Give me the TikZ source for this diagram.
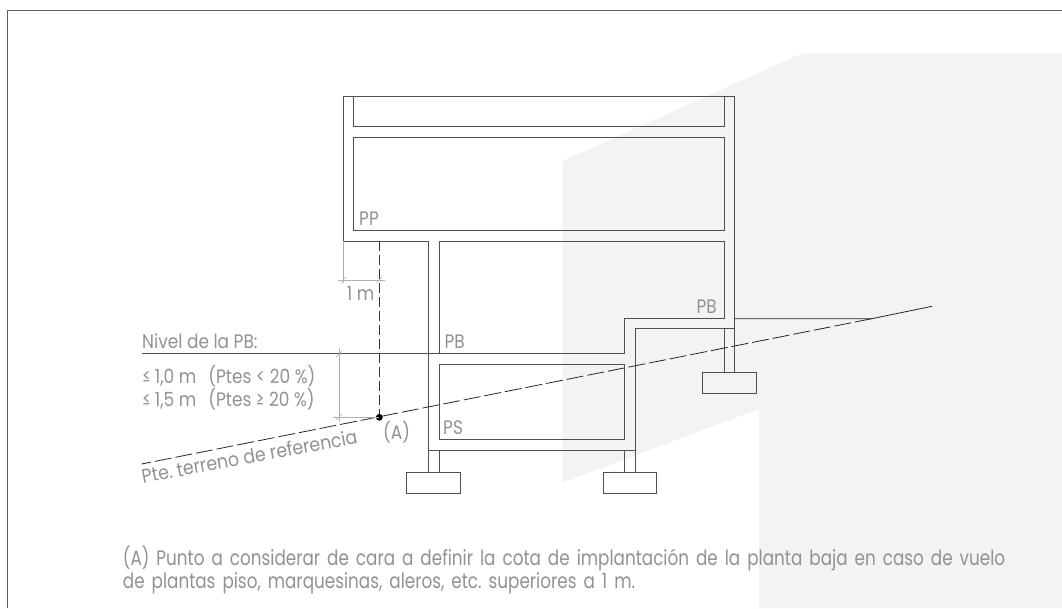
\documentclass[tikz,border=0pt]{standalone}
\usepackage{fontspec}
\setmainfont{Poppins}
\newfontfamily\labfont{Poppins}[FakeStretch=0.87]
\newfontfamily\ptefont{Poppins}[FakeStretch=0.89]
\newfontfamily\notefont{Poppins}[FakeStretch=0.80]
\frenchspacing
\definecolor{bgg}{HTML}{F3F3F3}
\definecolor{wall}{HTML}{505050}
\definecolor{txt}{HTML}{929292}
\definecolor{dimc}{HTML}{B0B0B0}
\tikzset{
  px/.style={x=1pt,y=-1pt},
  wallline/.style={draw=wall,line width=0.9pt,line join=miter},
  dimline/.style={draw=dimc,line width=0.5pt},
  lab/.style={text=txt,font=\labfont\fontsize{19.5}{22}\selectfont,inner sep=0pt},
  note/.style={text=txt,font=\notefont\fontsize{21}{23.5}\selectfont,inner sep=0pt,align=left,anchor=base west,text width=930pt}
}
\begin{document}
\begin{tikzpicture}[px]
\useasboundingbox (0,0) rectangle (1062,608);
\fill[white] (0,0) rectangle (1062,608);
\fill[bgg] (562.7,161) -- (803,53) -- (1062,53) -- (1062,608) -- (759,608) -- (759,409) -- (562.7,482.7) -- cycle;
\draw[draw=wall!90,line width=1.3pt] (7.5,608) -- (7.5,10.5) -- (1062,10.5);
% outer building
\draw[wallline] (343.3,96) -- (734.7,96);
\draw[wallline] (428.7,472) -- (428.7,241) -- (343.3,241) -- (343.3,96);
\draw[wallline] (734.7,96) -- (734.7,372);
\draw[wallline] (353.7,96) -- (353.7,126.7) -- (724,126.7) -- (724,96);
\draw[wallline] (353.7,137.7) rectangle (724,230.7);
\draw[wallline] (439.3,241) -- (724,241) -- (724,318) -- (624.7,318) -- (624.7,353.7) -- (439.3,353.7) -- cycle;
\draw[wallline] (439.3,364.7) rectangle (624.7,439.7);
\draw[wallline] (428.7,450) -- (635.3,450);
\draw[wallline] (635.3,472) -- (635.3,328.7) -- (734.7,328.7);
\draw[wallline] (439.3,450) -- (439.3,472);
\draw[wallline] (624.7,450) -- (624.7,472);
\draw[wallline] (724,328.7) -- (724,372);
\draw[wallline] (406.7,472) rectangle (460.7,493.7);
\draw[wallline] (603,472) rectangle (656.7,493.7);
\draw[wallline] (702,372) rectangle (756,393.7);
% level and terrain
\draw[wallline] (141.7,353.7) -- (624.7,353.7);
\draw[draw=black!85,line width=0.8pt] (734.7,318.7) -- (871.7,318.7) -- (932,306.3);
\draw[draw=black!85,line width=0.8pt,dash pattern=on 17pt off 4pt] (871.7,318.7) -- (141.7,464);
\draw[draw=black!80,line width=1.1pt,dash pattern=on 10pt off 4pt] (379.3,241) -- (379.3,417);
\fill[black] (379.3,417.3) circle (3.4pt);
% dimensions
\draw[dimline] (343.3,241) -- (343.3,283);
\draw[dimline] (338,280) -- (385,280);
\draw[dimline] (340.5,283) -- (346,277);
\draw[dimline] (376.5,283) -- (382,277);
\draw[dimline] (339,348) -- (339,421);
\draw[dimline] (333,417) -- (379,417);
\draw[dimline] (336,357) -- (342,351);
\draw[dimline] (336,420) -- (342,414);
% labels
\node[lab,anchor=base west] (pp) at (359,225.7) {PP};
\node[lab,anchor=base west] (pb1) at (444.3,348.3) {PB};
\node[lab,anchor=base east] (pb2) at (717,313) {PB};
\node[lab,anchor=base west] (ps) at (443,434) {PS};
\node[lab,anchor=base west] (onem) at (346.7,300) {1 m};
\node[lab,anchor=base west] (a) at (383,439) {(A)};
\node[lab,anchor=base west] (nivel) at (142,348) {Nivel de la PB:};
\node[lab,anchor=base west] (l1) at (142,383) {≤\hspace{4pt}1,0 m\hspace{12pt}(Ptes < 20 \%)};
\node[lab,anchor=base west] (l2) at (142,406) {≤\hspace{4pt}1,5 m\hspace{12pt}(Ptes ≥ 20 \%)};
\node[text=txt,font=\ptefont\fontsize{19.5}{22}\selectfont,inner sep=0pt,anchor=base west,rotate=10.5] (pte) at (143,483.5) {Pte. terreno de referencia};
\node[note] (n) at (122.7,565) {(A) Punto a considerar de cara a definir la cota de implantación de la planta baja en caso de vuelo\\de plantas piso, marquesinas, aleros, etc. superiores a 1 m.};
\end{tikzpicture}
\end{document}
